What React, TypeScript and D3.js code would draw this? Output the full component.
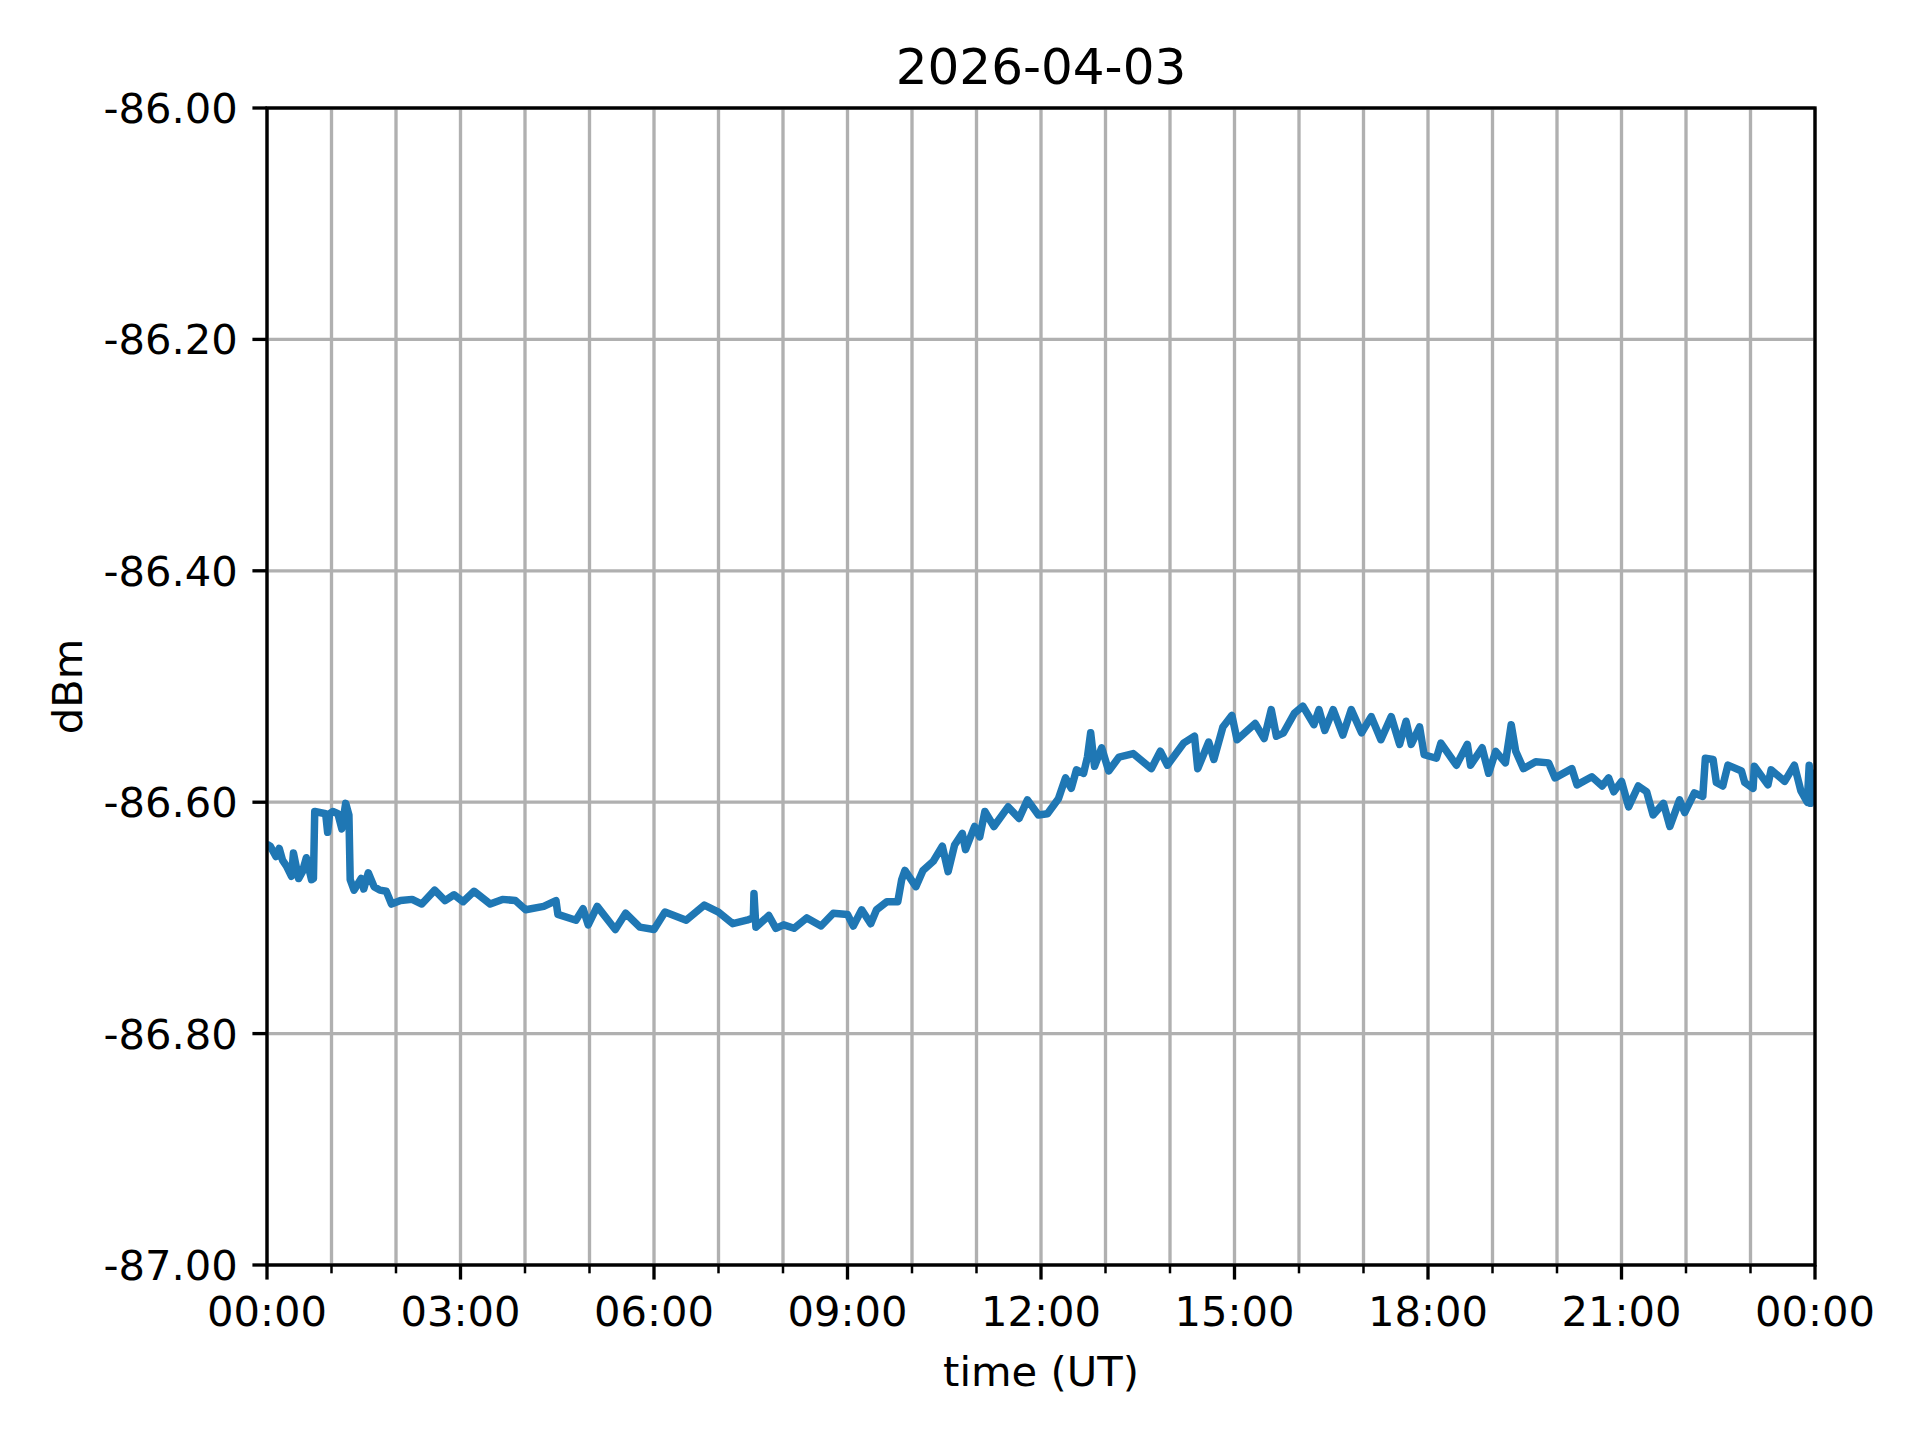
import React from "react";
import * as d3 from "d3";

const title = "2026-04-03";
const xLabel = "time (UT)";
const yLabel = "dBm";
const yTicks = [-86.0, -86.2, -86.4, -86.6, -86.8, -87.0];
const xMajorHours = [0, 3, 6, 9, 12, 15, 18, 21, 24];
const xMinorHours = d3.range(0, 25);

const hours = [
  0.02, 0.05, 0.14, 0.19, 0.24, 0.3, 0.38, 0.41, 0.49, 0.55, 0.61, 0.69, 0.72, 0.74, 0.91, 0.94, 0.97, 1.02, 1.1, 1.16,
  1.22, 1.27, 1.29, 1.35, 1.46, 1.5, 1.57, 1.66, 1.75, 1.85, 1.93, 2.07, 2.25, 2.4, 2.6, 2.76, 2.9, 3.04, 3.21, 3.46,
  3.65, 3.85, 4.01, 4.29, 4.48, 4.51, 4.79, 4.9, 4.98, 5.12, 5.4, 5.56, 5.78, 6.0, 6.17, 6.5, 6.78, 7.0, 7.22, 7.44,
  7.54, 7.55, 7.58, 7.78, 7.89, 8.01, 8.17, 8.37, 8.59, 8.78, 9.0, 9.09, 9.22, 9.36, 9.45, 9.61, 9.78, 9.84, 9.89, 10.06,
  10.17, 10.33, 10.47, 10.56, 10.66, 10.78, 10.83, 10.97, 11.05, 11.13, 11.27, 11.49, 11.66, 11.79, 11.96, 12.1, 12.27, 12.38, 12.47, 12.55,
  12.66, 12.72, 12.77, 12.83, 12.94, 13.05, 13.21, 13.43, 13.71, 13.85, 13.96, 14.21, 14.38, 14.43, 14.6, 14.68, 14.82, 14.96, 15.04, 15.32,
  15.46, 15.57, 15.65, 15.76, 15.93, 16.06, 16.23, 16.31, 16.4, 16.53, 16.68, 16.81, 16.97, 17.12, 17.27, 17.43, 17.56, 17.66, 17.74, 17.87,
  17.94, 18.13, 18.2, 18.44, 18.61, 18.66, 18.84, 18.94, 19.05, 19.2, 19.29, 19.36, 19.48, 19.67, 19.87, 19.97, 20.23, 20.31, 20.54, 20.7,
  20.8, 20.88, 21.0, 21.11, 21.26, 21.39, 21.49, 21.65, 21.75, 21.9, 21.98, 22.13, 22.26, 22.3, 22.42, 22.47, 22.57, 22.65, 22.86, 22.91,
  23.04, 23.06, 23.27, 23.32, 23.53, 23.68, 23.78, 23.88, 23.91, 23.93, 23.97, 24.0,
];

const values = [
  -86.637, -86.638, -86.647, -86.64, -86.65, -86.655, -86.664, -86.644, -86.666, -86.66, -86.648, -86.667, -86.666, -86.608, -86.61, -86.626, -86.61, -86.608, -86.61, -86.623,
  -86.601, -86.611, -86.667, -86.676, -86.666, -86.675, -86.661, -86.673, -86.676, -86.677, -86.688, -86.685, -86.684, -86.688, -86.676, -86.685, -86.68, -86.686, -86.677, -86.688,
  -86.684, -86.685, -86.693, -86.69, -86.685, -86.697, -86.702, -86.692, -86.706, -86.69, -86.71, -86.696, -86.708, -86.71, -86.695, -86.702, -86.689, -86.695, -86.705, -86.702,
  -86.7, -86.679, -86.708, -86.698, -86.709, -86.706, -86.709, -86.7, -86.707, -86.696, -86.697, -86.707, -86.693, -86.705, -86.693, -86.686, -86.686, -86.667, -86.659, -86.673,
  -86.659, -86.651, -86.638, -86.66, -86.637, -86.627, -86.641, -86.621, -86.63, -86.608, -86.621, -86.604, -86.614, -86.598, -86.611, -86.61, -86.597, -86.579, -86.588, -86.572,
  -86.575, -86.561, -86.54, -86.569, -86.553, -86.573, -86.561, -86.558, -86.571, -86.556, -86.568, -86.549, -86.543, -86.571, -86.548, -86.563, -86.535, -86.525, -86.546, -86.532,
  -86.545, -86.52, -86.543, -86.54, -86.523, -86.517, -86.533, -86.52, -86.538, -86.52, -86.542, -86.52, -86.54, -86.526, -86.546, -86.526, -86.55, -86.53, -86.55, -86.535,
  -86.559, -86.562, -86.549, -86.568, -86.55, -86.568, -86.553, -86.575, -86.556, -86.566, -86.533, -86.556, -86.571, -86.565, -86.566, -86.579, -86.571, -86.585, -86.578, -86.586,
  -86.579, -86.591, -86.582, -86.604, -86.586, -86.591, -86.611, -86.601, -86.621, -86.598, -86.609, -86.592, -86.595, -86.562, -86.563, -86.583, -86.586, -86.568, -86.573, -86.583,
  -86.588, -86.569, -86.585, -86.572, -86.582, -86.568, -86.59, -86.6, -86.568, -86.601, -86.575, -86.595,
];

const W = 1920;
const H = 1440;
const left = 267;
const right = 1815;
const top = 108;
const bottom = 1265;
const PT = 300 / 72;
const FONT = "'DejaVu Sans', sans-serif";

export default function App() {
  const x = d3.scaleLinear().domain([0, 24]).range([left, right]);
  const y = d3.scaleLinear().domain([-87, -86]).range([bottom, top]);
  const line = d3
    .line<number>()
    .x((_, i) => x(hours[i]))
    .y((d) => y(d));
  const pad = (h: number) => String(h % 24).padStart(2, "0") + ":00";
  const tickFs = 10 * PT;

  return (
    <svg
      width={W}
      height={H}
      viewBox={`0 0 ${W} ${H}`}
      style={{ position: "absolute", left: 0, top: 0, background: "#fff" }}
    >
      <rect x={0} y={0} width={W} height={H} fill="#fff" />
      <defs>
        <clipPath id="plotclip">
          <rect x={left} y={top} width={right - left} height={bottom - top} />
        </clipPath>
      </defs>
      {xMinorHours.map((h) => (
        <line key={"gx" + h} x1={x(h)} x2={x(h)} y1={top} y2={bottom} stroke="#b0b0b0" strokeWidth={0.8 * PT} />
      ))}
      {yTicks.map((v) => (
        <line key={"gy" + v} x1={left} x2={right} y1={y(v)} y2={y(v)} stroke="#b0b0b0" strokeWidth={0.8 * PT} />
      ))}
      <path
        d={line(values) || ""}
        fill="none"
        stroke="#1f77b4"
        strokeWidth={1.8 * PT}
        strokeLinejoin="round"
        strokeLinecap="round"
        clipPath="url(#plotclip)"
      />
      <rect x={left} y={top} width={right - left} height={bottom - top} fill="none" stroke="#000" strokeWidth={0.8 * PT} />
      {xMinorHours
        .filter((h) => h % 3 !== 0)
        .map((h) => (
          <line key={"mt" + h} x1={x(h)} x2={x(h)} y1={bottom} y2={bottom + 2 * PT} stroke="#000" strokeWidth={0.6 * PT} />
        ))}
      {xMajorHours.map((h) => (
        <g key={"xt" + h}>
          <line x1={x(h)} x2={x(h)} y1={bottom} y2={bottom + 3.5 * PT} stroke="#000" strokeWidth={0.8 * PT} />
          <text
            x={x(h)}
            y={bottom + 7 * PT + tickFs * 0.76}
            textAnchor="middle"
            fontFamily={FONT}
            fontSize={tickFs}
            fill="#000"
          >
            {pad(h)}
          </text>
        </g>
      ))}
      {yTicks.map((v) => (
        <g key={"yt" + v}>
          <line x1={left - 3.5 * PT} x2={left} y1={y(v)} y2={y(v)} stroke="#000" strokeWidth={0.8 * PT} />
          <text
            x={left - 7 * PT}
            y={y(v)}
            dy="0.36em"
            textAnchor="end"
            fontFamily={FONT}
            fontSize={tickFs}
            fill="#000"
          >
            {v.toFixed(2)}
          </text>
        </g>
      ))}
      <text x={(left + right) / 2} y={84} textAnchor="middle" fontFamily={FONT} fontSize={12 * PT} fill="#000">
        {title}
      </text>
      <text x={(left + right) / 2} y={1386} textAnchor="middle" fontFamily={FONT} fontSize={tickFs} fill="#000">
        {xLabel}
      </text>
      <text
        transform={`translate(82, ${(top + bottom) / 2}) rotate(-90)`}
        textAnchor="middle"
        fontFamily={FONT}
        fontSize={tickFs}
        fill="#000"
      >
        {yLabel}
      </text>
    </svg>
  );
}
